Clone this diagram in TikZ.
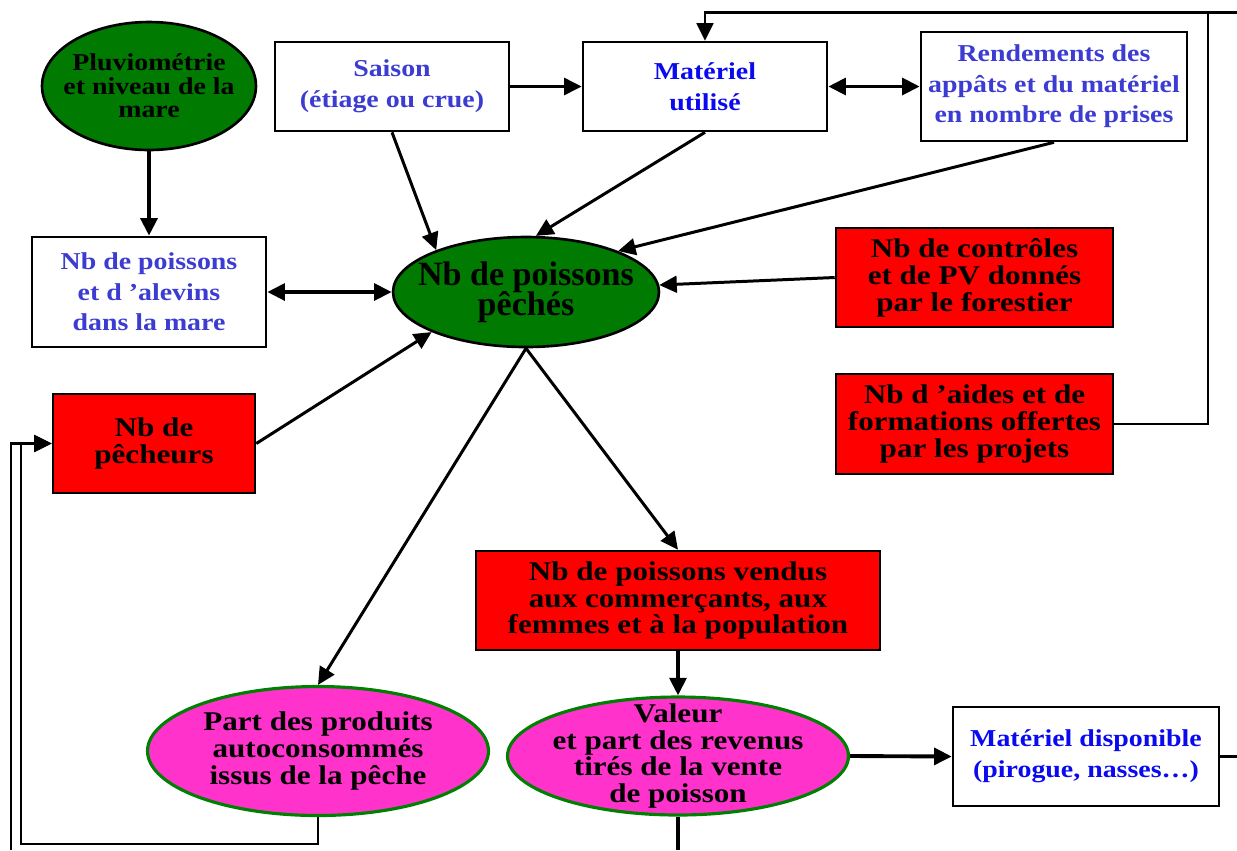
\documentclass[tikz,border=0pt]{standalone}
\usepackage{fontspec}
\setmainfont{Liberation Serif}[FakeStretch=1.15]
\newfontfamily\plainserif{Liberation Serif}
\usetikzlibrary{arrows.meta, shapes.geometric}

\definecolor{fishgreen}{RGB}{0,122,0}
\definecolor{rimgreen}{RGB}{0,128,0}
\definecolor{pinkfill}{RGB}{255,51,204}
\definecolor{softblue}{RGB}{60,60,210}
\definecolor{deepblue}{RGB}{10,10,240}

\newcommand{\smallbold}{\fontsize{13.8}{13.4}\selectfont\bfseries\lineskiplimit=-50pt}
\newcommand{\bluebold}{\fontsize{13.8}{17.4}\selectfont\bfseries\lineskiplimit=-50pt}
\newcommand{\redbold}{\fontsize{15.4}{15.3}\selectfont\bfseries\lineskiplimit=-50pt}
\newcommand{\bigbold}{\plainserif\fontsize{19.4}{17.2}\selectfont\bfseries\lineskiplimit=-50pt}

\begin{document}
\begin{tikzpicture}[x=0.02cm, y=-0.02cm,
		box/.style={draw, line width=1.5pt, inner sep=0pt, align=center},
		bluebox/.style={box, fill=white, text=softblue, font=\bluebold},
		redbox/.style={box, fill=red, font=\redbold},
		greenell/.style={ellipse, draw, line width=1.5pt, fill=fishgreen, inner sep=-12pt, align=center},
		pinkell/.style={ellipse, draw=rimgreen, line width=1.8pt, fill=pinkfill, inner sep=-12pt, align=center, font=\redbold},
		arr/.style={-{Triangle[length=10pt,width=9.5pt]}, line width=1.7pt},
		darr/.style={{Triangle[length=10pt,width=9.5pt]}-{Triangle[length=10pt,width=9.5pt]}, line width=2.2pt},
		loop/.style={line width=1.5pt}]
	\useasboundingbox (0,0) rectangle (1237,850);

	\node[greenell, font=\smallbold, minimum width=4.28cm, minimum height=2.56cm] (pluvio) at (149,86) {Pluviométrie\\et niveau de la\\mare};
	\node[bluebox, minimum width=4.68cm, minimum height=1.78cm] (saison) at (392,86.5) {Saison\\(étiage ou crue)};
	\node[bluebox, text=deepblue, minimum width=4.88cm, minimum height=1.78cm] (materiel) at (705,86.5) {Matériel\\utilisé};
	\node[bluebox, minimum width=5.32cm, minimum height=2.18cm] (rendement) at (1054,86.5) {Rendements des\\appâts et du matériel\\en nombre de prises};
	\node[bluebox, minimum width=4.68cm, minimum height=2.2cm] (alevins) at (149,292) {Nb de poissons\\et d ’alevins\\dans la mare};
	\node[greenell, font=\bigbold, minimum width=5.32cm, minimum height=2.2cm] (peches) at (526,292) {Nb de poissons\\pêchés};
	\node[redbox, minimum width=5.54cm, minimum height=1.98cm] (controles) at (974.5,277.5) {Nb de contrôles\\et de PV donnés\\par le forestier};
	\node[redbox, minimum width=4.04cm, minimum height=1.98cm] (pecheurs) at (154,443.5) {Nb de\\pêcheurs};
	\node[redbox, minimum width=5.54cm, minimum height=2cm] (aides) at (974.5,424) {Nb d ’aides et de\\formations offertes\\par les projets};
	\node[redbox, minimum width=8.08cm, minimum height=1.98cm] (vendus) at (678,600.5) {Nb de poissons vendus\\aux commerçants, aux\\femmes et à la population};
	\node[pinkell, minimum width=6.82cm, minimum height=2.58cm] (part) at (318,751) {Part des produits\\autoconsommés\\issus de la pêche};
	\node[pinkell, minimum width=6.82cm, minimum height=2.36cm] (valeur) at (678,756) {Valeur\\et part des revenus\\tirés de la vente\\de poisson};
	\node[bluebox, text=deepblue, minimum width=5.32cm, minimum height=1.98cm] (dispo) at (1086,756.5) {Matériel disponible\\(pirogue, nasses…)};

	\coordinate (looptop) at (1208,12.7);
	\coordinate (edgetop) at (1237,12.7);
	\coordinate (edgeright) at (1237,756.5);
	\coordinate (edgebottom) at (678,850);
	\coordinate (loopbottom) at (21,844);
	\coordinate (edgeleft) at (11,850);

	\draw[arr, line width=2.3pt] (pluvio.south) -- (alevins.north);
	\draw[arr, line width=2pt] (saison.east) -- (materiel.west);
	\draw[darr] (materiel.east) -- (rendement.west);
	\draw[darr] (alevins.east) -- (peches.west);
	\draw[arr] (saison.south) -- (peches.155);
	\draw[arr] (materiel.south) -- (peches.80);
	\draw[arr] (rendement.south) -- (peches.24);
	\draw[arr] (controles.west) -- (peches.3);
	\draw[arr] (pecheurs.east) -- (peches.203);
	\draw[arr] (peches.south) -- (part.north);
	\draw[arr] (peches.south) -- (vendus.north);
	\draw[arr, line width=2.2pt] (vendus.south) -- (valeur.north);
	\draw[arr, line width=2.2pt] (valeur.east) -- (dispo.west);
	\draw[loop, line width=2pt] (dispo.east) -- (edgeright);
	\draw[loop, line width=2pt] (valeur.south) -- (edgebottom);
	\draw[loop, arr, line width=1.5pt] (aides.east) -| (looptop) -| (materiel.north);
	\draw[loop] (edgetop) -- (looptop);
	\draw[loop, arr, line width=1.5pt] (part.south) |- (loopbottom) |- (pecheurs.west);
	\draw[loop, arr, line width=1.5pt] (edgeleft) |- (pecheurs.west);
\end{tikzpicture}
\end{document}
